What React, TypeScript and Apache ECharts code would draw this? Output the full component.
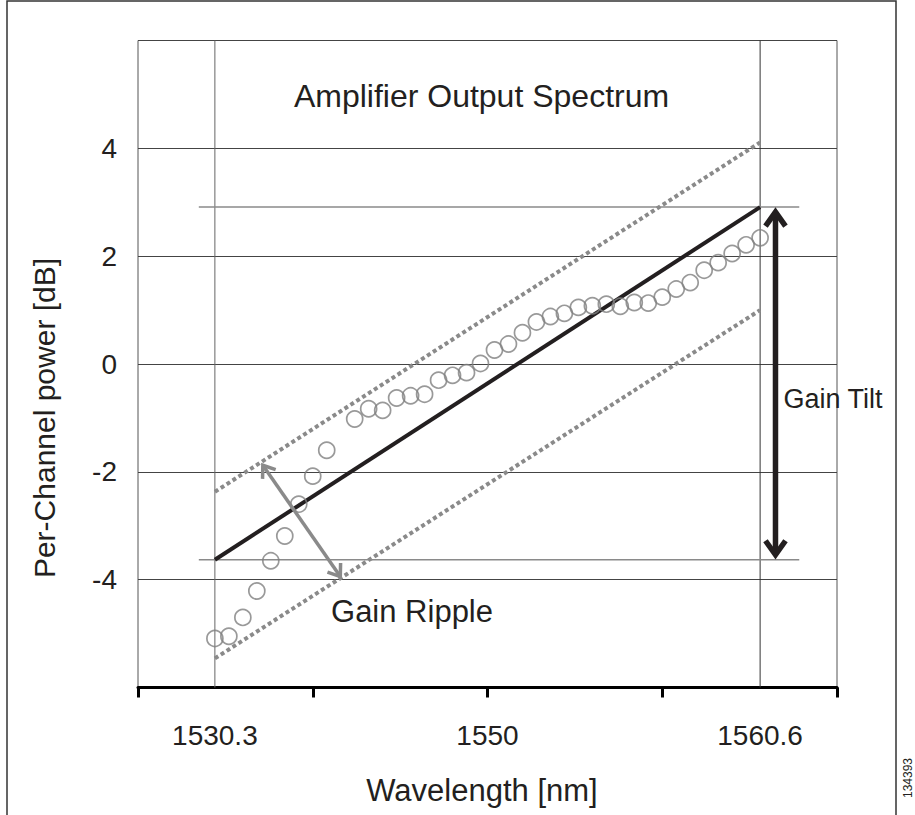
import React, { useEffect, useRef } from 'react';
import * as echarts from 'echarts';

// ---- data ----
const channels = [1, 2, 3, 4, 5, 6, 7, 8, 9, 11, 12, 13, 14, 15, 16, 17, 18, 19, 20, 21, 22, 23, 24, 25, 26, 27, 28, 29, 30, 31, 32, 33, 34, 35, 36, 37, 38, 39, 40];
const powerDb = [-5.09, -5.05, -4.7, -4.21, -3.65, -3.19, -2.6, -2.08, -1.6, -1.02, -0.83, -0.86, -0.63, -0.59, -0.56, -0.3, -0.21, -0.16, 0.01, 0.26, 0.37, 0.58, 0.78, 0.88, 0.94, 1.05, 1.08, 1.11, 1.07, 1.14, 1.13, 1.24, 1.39, 1.51, 1.74, 1.88, 2.05, 2.21, 2.34];

const wavelengthLabels = ['1530.3', '1550', '1560.6'];
const wavelengthLabelChannels = [1, 20.5, 40];
const xTickChannels = [-4.5, 8, 20.5, 33, 45.5];
const xRange = [-4.5, 45.5];
const yRange = [-6, 6];
const yInterval = 2;
const yLabelValues = [-4, -2, 0, 2, 4];

const edgeChannels = [1, 40];
const tiltFitDb = [-3.63, 2.91];
const rippleUpperDb = [-2.37, 4.11];
const rippleLowerDb = [-5.46, 1.0];
const tiltLevelsDb = [2.91, -3.63];
const tiltLevelSpan = [-0.15, 42.8];
const tiltArrow = [41.1, 2.91, 41.1, -3.63];
const rippleArrow = [4.3, -1.83, 10.1, -3.99];

const FONT = '"Liberation Sans", Arial, Helvetica, sans-serif';
const INK = '#231f20';
const GRAY = '#8a8a8a';

function arrowRenderer(color: string, width: number, head: number, spread: number) {
  return (_params: any, api: any) => {
    const a = api.coord([api.value(0), api.value(1)]);
    const b = api.coord([api.value(2), api.value(3)]);
    const dx = b[0] - a[0];
    const dy = b[1] - a[1];
    const len = Math.hypot(dx, dy);
    const ux = dx / len;
    const uy = dy / len;
    const px = -uy;
    const py = ux;
    const inset = width * 0.9;
    const headPts = (tip: number[], dir: number[]) => {
      const t = [tip[0] - dir[0] * inset, tip[1] - dir[1] * inset];
      const bx = t[0] - dir[0] * head;
      const by = t[1] - dir[1] * head;
      return [[bx + px * spread, by + py * spread], t, [bx - px * spread, by - py * spread]];
    };
    const style = { stroke: color, lineWidth: width, fill: null, lineJoin: 'miter' };
    return {
      type: 'group',
      children: [
        {
          type: 'line',
          shape: { x1: a[0] + ux * inset * 1.5, y1: a[1] + uy * inset * 1.5, x2: b[0] - ux * inset * 1.5, y2: b[1] - uy * inset * 1.5 },
          style: { stroke: color, lineWidth: width },
        },
        { type: 'polyline', shape: { points: headPts(a, [-ux, -uy]) }, style },
        { type: 'polyline', shape: { points: headPts(b, [ux, uy]) }, style },
      ],
    };
  };
}

export default function App() {
  const ref = useRef<HTMLDivElement>(null);

  useEffect(() => {
    if (!ref.current) return;
    const chart = echarts.init(ref.current, null, { renderer: 'svg' });

    const scatterData = channels.map((c, i) => [c, powerDb[i]]);
    const lineFrom = (ys: number[]) => edgeChannels.map((c, i) => [c, ys[i]]);

    const option: any = {
      animation: false,
      backgroundColor: '#ffffff',
      grid: {
        left: 138,
        top: 40.5,
        right: 78,
        bottom: 127.5,
        show: true,
        borderColor: '#555',
        borderWidth: 1,
        backgroundColor: 'transparent',
      },
      xAxis: {
        type: 'value',
        min: xRange[0],
        max: xRange[1],
        axisLine: { show: true, onZero: false, lineStyle: { color: '#000', width: 3 } },
        axisTick: { show: true, customValues: xTickChannels, length: 10, lineStyle: { color: '#000', width: 3 } },
        axisLabel: {
          show: true,
          customValues: wavelengthLabelChannels,
          formatter: (v: number) => {
            const idx = wavelengthLabelChannels.indexOf(v);
            return idx >= 0 ? wavelengthLabels[idx] : '';
          },
          margin: 34,
          fontSize: 28,
          fontFamily: FONT,
          color: INK,
        },
        splitLine: { show: false },
      },
      yAxis: {
        type: 'value',
        min: yRange[0],
        max: yRange[1],
        interval: yInterval,
        axisLine: { show: false },
        axisTick: { show: false },
        axisLabel: {
          formatter: (v: number) => (yLabelValues.includes(v) ? String(v) : ''),
          margin: 21,
          fontSize: 28,
          fontFamily: FONT,
          color: INK,
          padding: [8, 0, 0, 0],
        },
        splitLine: { show: true, lineStyle: { color: '#444', width: 1 } },
      },
      graphic: [
        {
          type: 'rect',
          shape: { x: 7, y: 1, width: 889, height: 900 },
          style: { stroke: '#333', lineWidth: 1.5, fill: 'none' },
          silent: true,
        },
        {
          type: 'text',
          x: 481.5,
          y: 96,
          style: { text: 'Amplifier Output Spectrum', fontSize: 32, fontFamily: FONT, fill: INK, align: 'center', verticalAlign: 'middle' },
        },
        {
          type: 'text',
          x: 833,
          y: 399,
          style: { text: 'Gain Tilt', fontSize: 27, fontFamily: FONT, fill: INK, align: 'center', verticalAlign: 'middle' },
        },
        {
          type: 'text',
          x: 412,
          y: 611.5,
          style: { text: 'Gain Ripple', fontSize: 31, fontFamily: FONT, fill: INK, align: 'center', verticalAlign: 'middle' },
        },
        {
          type: 'text',
          x: 482,
          y: 790,
          style: { text: 'Wavelength [nm]', fontSize: 31, fontFamily: FONT, fill: INK, align: 'center', verticalAlign: 'middle' },
        },
        {
          type: 'text',
          x: 44,
          y: 418,
          rotation: Math.PI / 2,
          style: { text: 'Per-Channel power [dB]', fontSize: 30, fontFamily: FONT, fill: INK, align: 'center', verticalAlign: 'middle' },
        },
        {
          type: 'text',
          x: 908,
          y: 778,
          rotation: Math.PI / 2,
          style: { text: '134393', fontSize: 12, fontFamily: FONT, fill: INK, align: 'center', verticalAlign: 'middle' },
        },
      ],
      series: [
        {
          type: 'line',
          name: 'grid-left',
          data: [[edgeChannels[0], yRange[0]], [edgeChannels[0], yRange[1]]],
          symbol: 'none',
          lineStyle: { color: '#666', width: 1 },
          silent: true,
        },
        {
          type: 'line',
          name: 'grid-right',
          data: [[edgeChannels[1], yRange[0]], [edgeChannels[1], yRange[1]]],
          symbol: 'none',
          lineStyle: { color: '#333', width: 1 },
          silent: true,
        },
        ...tiltLevelsDb.map((lvl) => ({
          type: 'line',
          data: tiltLevelSpan.map((c) => [c, lvl]),
          symbol: 'none',
          lineStyle: { color: GRAY, width: 1.5 },
          silent: true,
        })),
        {
          type: 'line',
          name: 'ripple-upper',
          data: lineFrom(rippleUpperDb),
          symbol: 'none',
          lineStyle: { color: GRAY, width: 4, type: [4, 3], cap: 'butt' },
        },
        {
          type: 'line',
          name: 'ripple-lower',
          data: lineFrom(rippleLowerDb),
          symbol: 'none',
          lineStyle: { color: GRAY, width: 4, type: [4, 3], cap: 'butt' },
        },
        {
          type: 'line',
          name: 'tilt-fit',
          data: lineFrom(tiltFitDb),
          symbol: 'none',
          lineStyle: { color: INK, width: 4 },
        },
        {
          type: 'scatter',
          name: 'channels',
          data: scatterData,
          symbol: 'circle',
          symbolSize: 16,
          itemStyle: { color: 'rgba(0,0,0,0)', borderColor: '#808080', borderWidth: 1.7 },
          z: 5,
        },
        {
          type: 'custom',
          name: 'tilt-arrow',
          data: [tiltArrow],
          renderItem: arrowRenderer(INK, 5.5, 14, 10),
          z: 6,
        },
        {
          type: 'custom',
          name: 'ripple-arrow',
          data: [rippleArrow],
          renderItem: arrowRenderer(GRAY, 3.5, 11, 8),
          z: 6,
        },
      ],
    };

    chart.setOption(option);
    return () => chart.dispose();
  }, []);

  return (
    <div
      ref={ref}
      style={{ position: 'fixed', left: 0, top: 0, width: 915, height: 815, background: '#fff' }}
    />
  );
}
